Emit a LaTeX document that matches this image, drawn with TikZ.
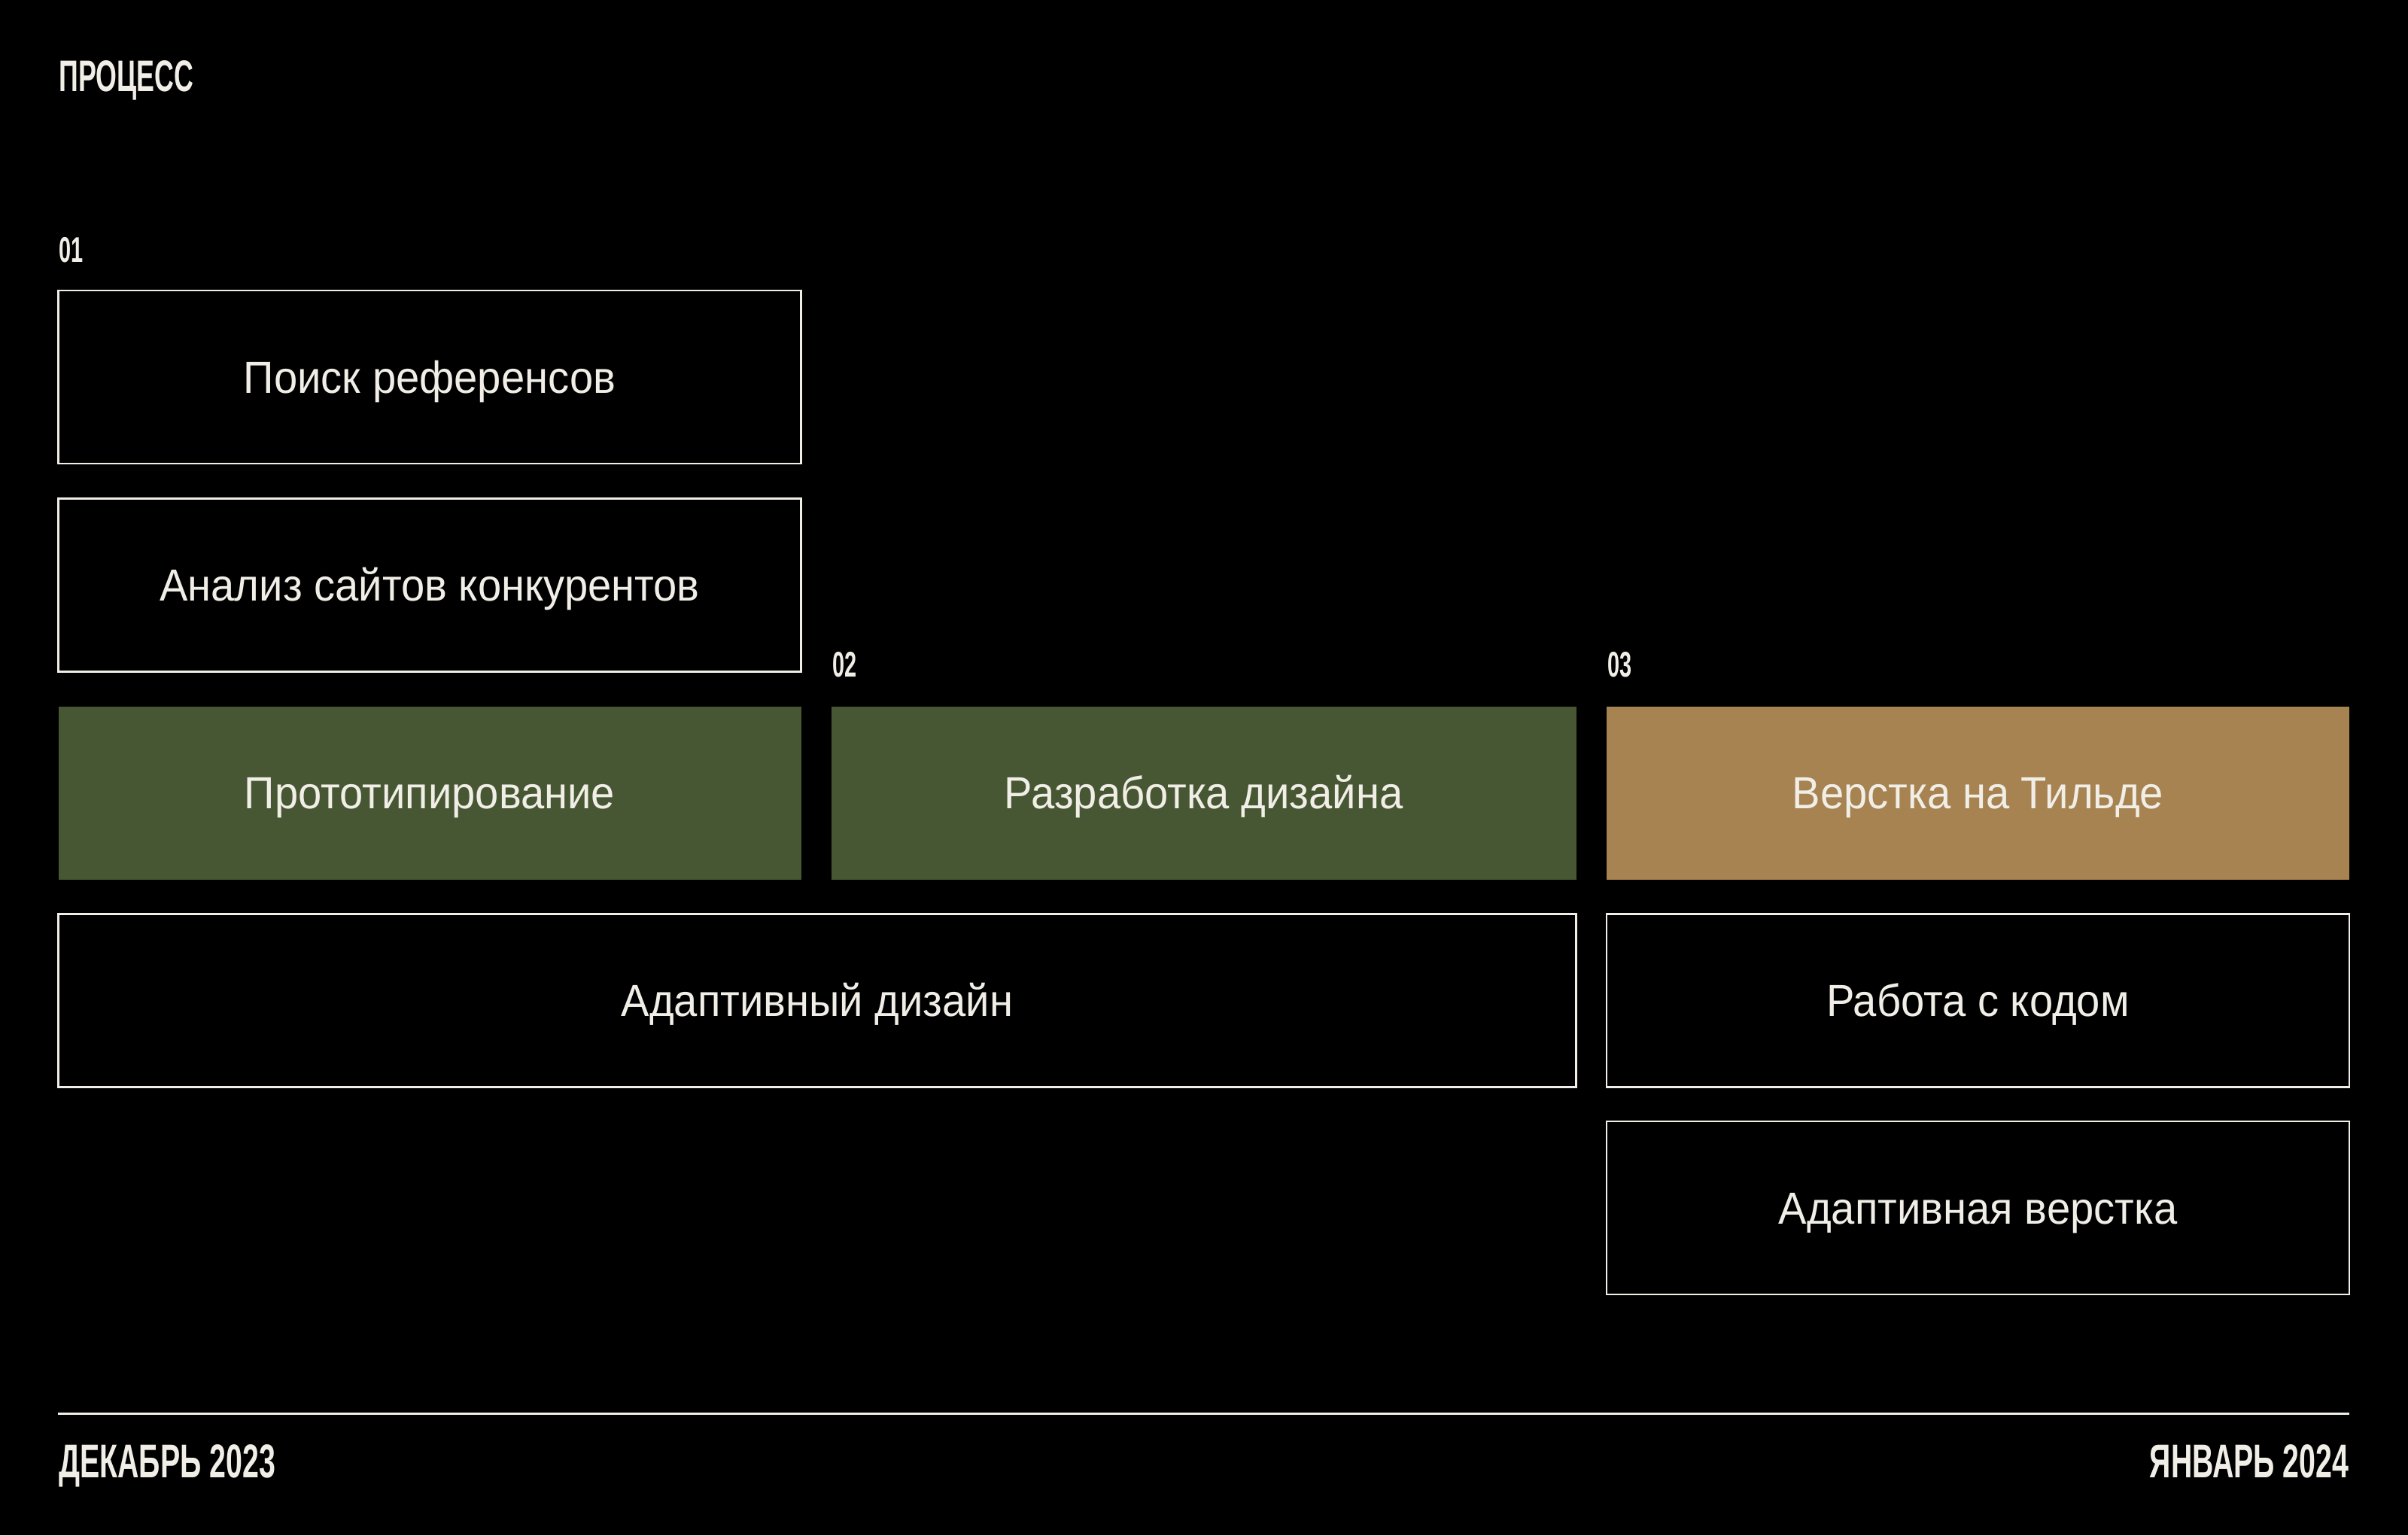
\documentclass[tikz,border=0pt]{standalone}
\usepackage{fontspec}
\setmainfont[FakeStretch=0.94]{Liberation Sans}
\newfontfamily\headfont[FakeStretch=0.61]{Liberation Sans}
\newfontfamily\footfont[FakeStretch=0.625]{Liberation Sans}
\usepackage{tikz}

\definecolor{paper}{HTML}{F0EEE6}
\definecolor{moss}{HTML}{485733}
\definecolor{ochre}{HTML}{A88352}

\begin{document}
\begin{tikzpicture}[
	stage/.style={draw=paper,line width=0.7pt,inner sep=0pt,minimum width=9.87cm,minimum height=2.3cm,text height=12.2pt,text depth=0pt,text=paper,font=\fontsize{17}{20}\selectfont},
	filled/.style={stage,draw=none,fill=#1},
	head/.style={inner sep=0pt,text=paper,font=\headfont\bfseries\fontsize{#1}{#1}\selectfont},
	foot/.style={inner sep=0pt,text=paper,font=\footfont\bfseries\fontsize{17.9}{18}\selectfont}
	]
		\fill[black] (0,0) rectangle (32,-20.4);
		\useasboundingbox (0,0) rectangle (32,-20.4);
		
		\node[head=16.7,anchor=base west] (title) at (0.78,-1.21) {ПРОЦЕСС};
		\foreach \n/\x/\y in {01/0.78/-3.48, 02/11.06/-8.99, 03/21.36/-8.99} {
		\node[head=13.5,anchor=base west] (num\n) at (\x,\y) {\n};
		}
		
		\node[stage] (poisk) at (5.71,-5.01) {Поиск референсов};
		\node[stage] (analiz) at (5.71,-7.775) {Анализ сайтов конкурентов};
		\node[filled=moss] (proto) at (5.71,-10.535) {Прототипирование};
		\node[filled=moss,minimum width=9.9cm] (dizajn) at (15.997,-10.535) {Разработка дизайна};
		\node[filled=ochre] (tilda) at (26.285,-10.535) {Верстка на Тильде};
		\node[stage,minimum width=20.17cm] (adapt) at (10.86,-13.295) {Адаптивный дизайн};
		\node[stage] (kod) at (26.285,-13.295) {Работа с кодом};
		\node[stage] (adverst) at (26.285,-16.05) {Адаптивная верстка};
		
		\coordinate (lineL) at (0.775,-18.785);
		\coordinate (lineR) at (31.22,-18.785);
		\draw[paper,line width=0.6pt] (lineL) -- (lineR);
		
		\node[foot,anchor=base west] (start) at (0.775,-19.63) {ДЕКАБРЬ 2023};
		\node[foot,anchor=base east] (finish) at (31.22,-19.63) {ЯНВАРЬ 2024};
	\end{tikzpicture}
\end{document}
